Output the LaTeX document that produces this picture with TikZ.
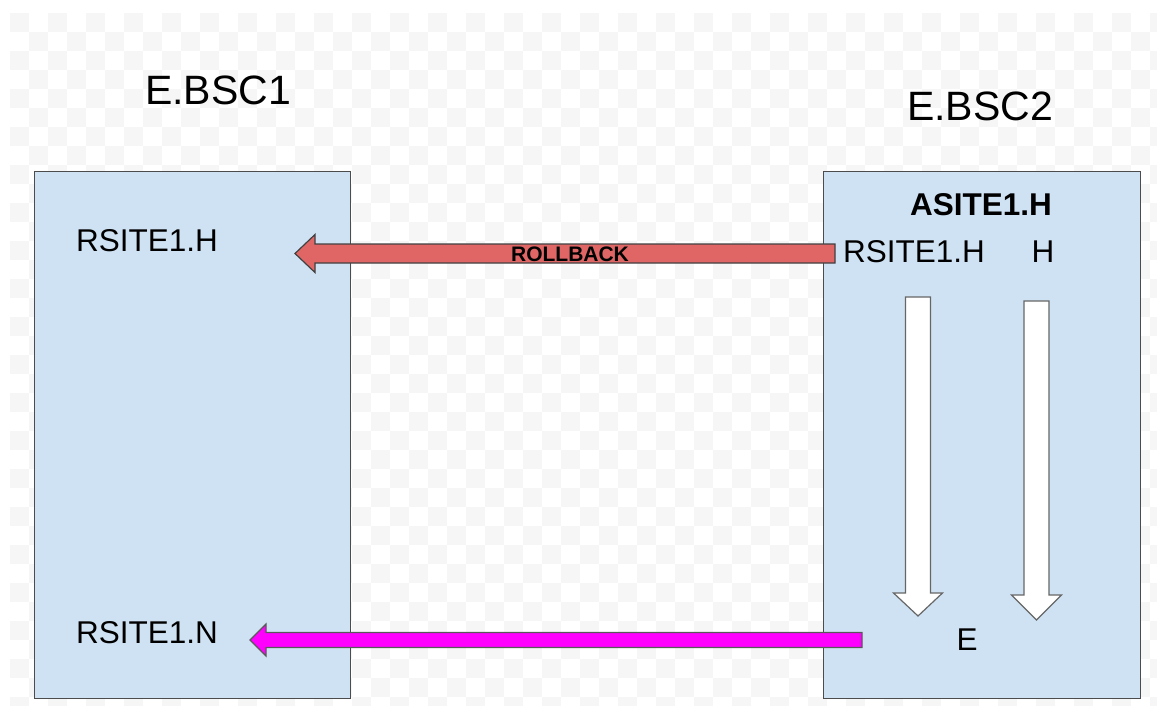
\documentclass[tikz,border=0pt]{standalone}
\usepackage{fontspec}
\setmainfont{Liberation Sans}
\usepackage{xcolor}
\usepackage{tikz}
\usetikzlibrary{calc}
\definecolor{panelcolor}{HTML}{CFE2F3}
\definecolor{rollbackcolor}{HTML}{E06666}
\definecolor{failcolor}{HTML}{FF00FF}
\definecolor{checkcolor}{HTML}{F6F6F6}
\tikzset{panel/.style={draw=black!70,fill=panelcolor,line width=1pt,minimum width=316,minimum height=526,inner sep=0},
	title/.style={inner sep=0,font=\fontsize{41}{46}\selectfont},
	label/.style={inner sep=0,font=\fontsize{31.5}{36}\selectfont},
	rollbackarrow/.style={draw=black!75,fill=rollbackcolor,line width=1.2pt,line join=miter},
	failarrow/.style={draw=black!65,fill=failcolor,line width=1.2pt,line join=miter},
	flowarrow/.style={draw=black!60,fill=white,line width=1.2pt,line join=miter}}
% block arrow: style, from, to, half shaft, half head, head length
\newcommand{\fatarrow}[6]{%
	\coordinate (fab) at ($(#3)!#6!(#2)$);
	\draw[#1] ($(#2)!#4!90:(#3)$) -- ($(fab)!#4!90:(#3)$) -- ($(fab)!#5!90:(#3)$) -- (#3)
		-- ($(fab)!#5!-90:(#3)$) -- ($(fab)!#4!-90:(#3)$) -- ($(#2)!#4!-90:(#3)$) -- cycle;
}

\begin{document}
\begin{tikzpicture}[x=1pt,y=-1pt]
		\useasboundingbox[fill=white] (0,0) rectangle (1157,706);
		\begin{scope}
			\clip (10,13) rectangle (1157,706);
			\foreach \i in {0,2,...,60}
				\foreach \j in {0,2,...,36} {
					\fill[checkcolor] (10+19*\i,13+19*\j) rectangle +(19,19);
					\fill[checkcolor] (29+19*\i,32+19*\j) rectangle +(19,19);
				}
		\end{scope}
		%
		\node[panel] (bsc1) at (192,435) {};
		\node[panel, minimum width=317] (bsc2) at (981.5,435) {};
		%
		\node[title] (t1) at (218,90) {E.BSC1};
		\node[title] (t2) at (980,106) {E.BSC2};
		\node[label, anchor=west] (rh) at (76,241) {RSITE1.H};
		\node[label, anchor=west] (rn) at (76,633) {RSITE1.N};
		\node[label, font=\fontsize{31.5}{36}\selectfont\bfseries] (as) at (981,205) {ASITE1.H};
		\node[label, anchor=west] (rh2) at (843,252) {RSITE1.H};
		\node[label] (h) at (1043,252) {H};
		\node[label] (e) at (967,640) {E};
		%
		\coordinate (rb-s) at (835,253.5);
		\coordinate (rb-e) at (295,253.5);
		\coordinate (rn-s) at (862,640);
		\coordinate (rn-e) at (250,640);
		\coordinate (f1-s) at (918,297);
		\coordinate (f1-e) at (918,616);
		\coordinate (f2-s) at (1036.5,301);
		\coordinate (f2-e) at (1036.5,620);
		%
		\fatarrow{rollbackarrow}{rb-s}{rb-e}{9.5pt}{19pt}{20pt}
		\fatarrow{failarrow}{rn-s}{rn-e}{7.5pt}{16pt}{16pt}
		\fatarrow{flowarrow}{f1-s}{f1-e}{12.5pt}{24.5pt}{23pt}
		\fatarrow{flowarrow}{f2-s}{f2-e}{12.5pt}{25pt}{25pt}
		%
		\node[inner sep=0, font=\fontsize{21}{24}\selectfont\bfseries] (rb) at (570,254) {ROLLBACK};
	\end{tikzpicture}
\end{document}
